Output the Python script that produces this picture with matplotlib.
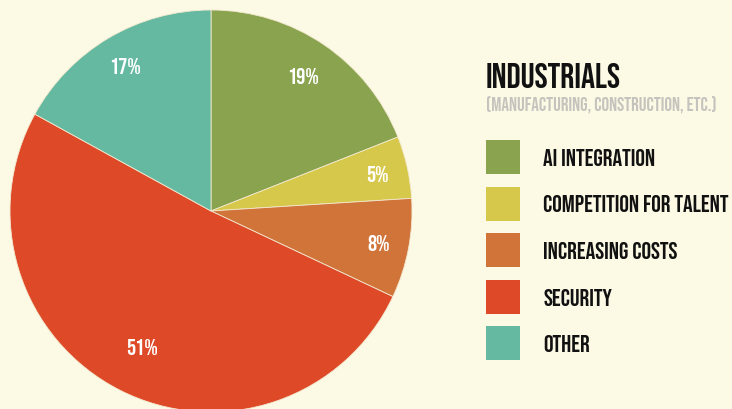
import numpy as np
import matplotlib.pyplot as plt
from matplotlib.patches import Rectangle

# data
labels = ['AI INTEGRATION', 'COMPETITION FOR TALENT', 'INCREASING COSTS', 'SECURITY', 'OTHER']
values = [19, 5, 8, 51, 17]
colors = ['#89A34F', '#D6C84B', '#D0743A', '#DE4A28', '#64B9A0']
pct_dist = [0.81, 0.85, 0.85, 0.76, 0.84]

bg = '#FCF9E4'
font = ['Bebas Neue', 'DejaVu Sans']

fig = plt.figure(figsize=(7.32, 4.09), dpi=100)
fig.patch.set_facecolor(bg)
ax = fig.add_axes([0, 0, 1, 1])
ax.set_facecolor(bg)

wedges, texts, autotexts = ax.pie(
    values, colors=colors, startangle=90, counterclock=False,
    center=(211, 198), radius=201, autopct='%d%%', pctdistance=0.82,
    wedgeprops=dict(edgecolor='#F3E9D0', linewidth=0.6),
    textprops=dict(color='white', fontsize=16.5, family=font))

# nudge the percentage labels
for w, t, d in zip(wedges, autotexts, pct_dist):
    ang = np.deg2rad((w.theta1 + w.theta2) / 2)
    t.set_position((211 + d * 201 * np.cos(ang), 198 + d * 201 * np.sin(ang)))

ax.set_xlim(0, 732)
ax.set_ylim(0, 409)
ax.set_aspect('auto')
ax.axis('off')

# title
ax.text(486, 409 - 88, 'INDUSTRIALS', fontsize=25.2, family=font,
        color='#111111', va='baseline', ha='left')
ax.text(486, 409 - 111, '(MANUFACTURING, CONSTRUCTION, ETC.)', fontsize=13.7,
        family=font, color='#C5C3BD', va='baseline', ha='left')

# legend
top = 409 - 140
step = 46.5
for i, (lab, c) in enumerate(zip(labels, colors)):
    y0 = top - i * step
    ax.add_patch(Rectangle((486, y0 - 34), 34, 34, facecolor=c, edgecolor='none'))
    ax.text(543, y0 - 26, lab, fontsize=17.3, family=font,
            color='#111111', va='baseline', ha='left')

fig.savefig('out.png', dpi=100, facecolor=bg)
